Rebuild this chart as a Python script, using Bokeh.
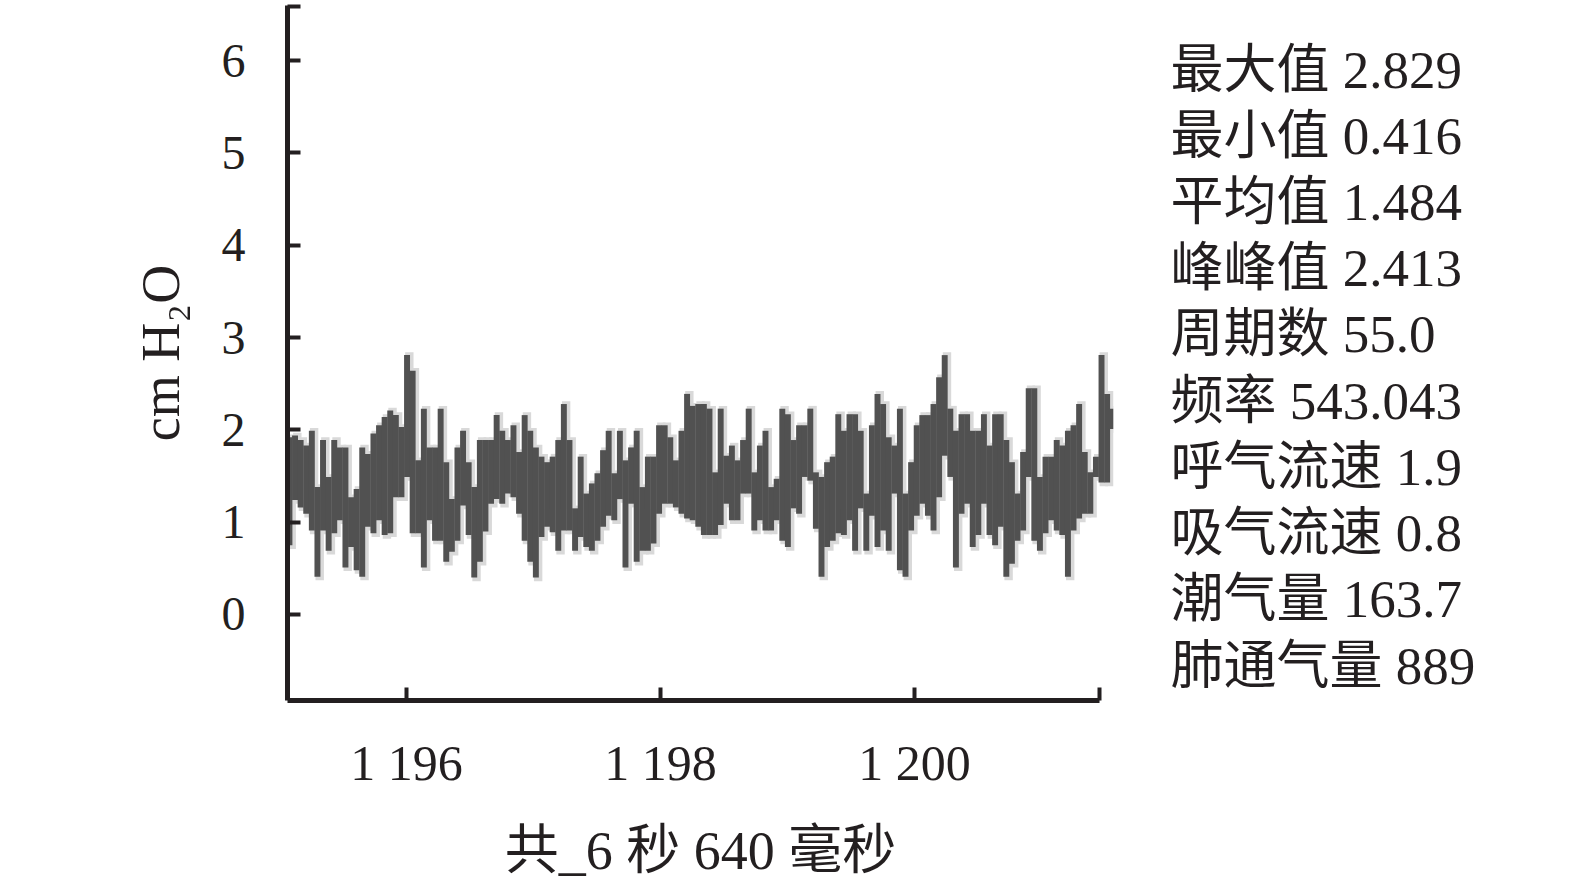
import numpy as np
from bokeh.plotting import figure
from bokeh.models import Range1d, FixedTicker, ColumnDataSource
from bokeh.layouts import row
from bokeh.core.properties import value
from bokeh.embed import file_html
from bokeh.resources import INLINE

# ---------------- data ----------------
T_START = 1194.99          # time of first sample column (s)
DT = 0.0441                # sample column spacing (s)

HI = [1.53, 1.89, 1.92, 1.94, 1.89, 1.83, 1.99, 1.38, 1.89, 1.49, 1.89, 1.81, 1.81, 1.27, 1.36, 1.81, 1.74, 1.96, 2.05, 2.14, 2.21, 2.16, 2.03, 2.81, 2.64,
      1.67, 2.23, 1.81, 1.81, 2.23, 1.65, 1.25, 1.81, 1.99, 1.65, 1.38, 1.89, 1.89, 1.89, 2.16, 1.99, 1.89, 2.05, 1.76, 2.16, 1.99, 1.81, 1.71, 1.65, 1.71,
      1.89, 2.28, 1.89, 1.15, 1.71, 1.31, 1.42, 1.53, 1.78, 1.99, 1.53, 1.99, 1.67, 1.81, 1.99, 1.38, 1.71, 1.71, 2.05, 2.05, 1.92, 1.67, 1.99, 2.39, 2.26,
      2.28, 2.28, 2.23, 1.54, 2.23, 1.72, 1.83, 1.67, 1.89, 2.23, 1.54, 1.83, 1.99, 1.38, 1.47, 2.23, 2.17, 1.89, 2.05, 2.05, 2.23, 1.54, 1.49, 1.65, 1.71,
      2.17, 1.99, 2.17, 2.17, 1.99, 1.31, 2.05, 2.39, 2.28, 1.92, 1.83, 2.23, 1.31, 1.65, 2.05, 2.16, 2.16, 2.28, 2.57, 2.81, 2.23, 1.99, 2.17, 2.17, 1.99,
      1.99, 2.17, 1.83, 2.17, 2.17, 1.89, 1.65, 1.31, 1.76, 2.45, 2.45, 1.49, 1.71, 1.71, 1.89, 1.83, 1.99, 2.05, 2.28, 1.76, 1.54, 1.71, 2.81, 2.39, 2.23]

LO = [0.95, 0.75, 0.75, 1.24, 1.16, 1.09, 0.91, 0.41, 0.91, 0.69, 0.88, 1.02, 0.51, 0.73, 0.48, 0.41, 0.95, 0.88, 1.02, 0.86, 0.88, 1.27, 1.27, 1.49, 0.88,
      0.88, 0.51, 1.02, 0.80, 0.80, 0.57, 0.68, 0.80, 1.18, 0.86, 0.40, 0.57, 0.90, 1.20, 1.25, 1.20, 1.31, 1.27, 1.09, 0.80, 0.57, 0.40, 0.84, 0.95, 0.89,
      0.69, 0.91, 0.91, 0.69, 0.84, 0.73, 0.69, 0.80, 0.95, 1.07, 1.02, 1.25, 0.51, 1.20, 0.57, 0.69, 0.69, 0.77, 1.09, 1.20, 1.20, 1.16, 1.09, 1.04, 1.02,
      0.95, 0.86, 0.86, 0.86, 0.97, 1.20, 1.02, 1.02, 1.31, 1.31, 0.91, 1.02, 0.91, 0.91, 1.02, 0.80, 0.73, 1.15, 1.09, 1.49, 1.45, 0.93, 0.41, 0.73, 0.80,
      0.88, 0.86, 1.02, 0.69, 1.15, 0.69, 1.07, 0.73, 0.91, 0.69, 1.31, 0.48, 0.41, 0.91, 1.07, 1.20, 1.07, 0.91, 1.27, 1.72, 1.49, 0.51, 1.09, 1.20, 0.73,
      0.86, 1.20, 0.86, 0.75, 0.95, 0.41, 0.55, 0.80, 0.91, 1.49, 0.80, 0.69, 0.88, 1.02, 0.91, 0.86, 0.41, 0.91, 1.04, 1.09, 1.09, 1.49, 1.43, 1.43, 2.01]

X_TICKS = [1196, 1198, 1200]
X_TICK_LABELS = ["1 196", "1 198", "1 200"]
Y_TICKS = [0, 1, 2, 3, 4, 5, 6]

STAT_NAMES = ["最大值", "最小值", "平均值", "峰峰值", "周期数", "频率", "呼气流速", "吸气流速", "潮气量", "肺通气量"]
STAT_VALUES = ["2.829", "0.416", "1.484", "2.413", "55.0", "543.043", "1.9", "0.8", "163.7", "889"]

X_LABEL = "共_6 秒 640 毫秒"
Y_LABEL = "cm H\u2082O"

# ---------------- styling / layout ----------------
FONT = "'Liberation Serif', 'Noto Sans CJK SC', serif"
INK = "#231f20"
TRACE = "#515151"
SHADOW = "#d9d9d9"

H = 884
MAIN_W = 1133
STATS_W = 1575 - MAIN_W
BT, BB = 5, 184

X_START, X_END = 1195.063, 1201.567
X_AXIS_END = 1201.46
Y_START, Y_END = -0.932, 6.598
Y_CAP = 6.585

t = T_START + DT * np.arange(len(HI))
hi = np.array(HI)
lo = np.array(LO)
src = ColumnDataSource(dict(t=t, hi=hi, lo=lo,
                            ts=t + 0.018, his=hi + 0.03, los=lo - 0.04))

p = figure(width=MAIN_W, height=H, output_backend="svg", toolbar_location=None,
           x_range=Range1d(X_START, X_END), y_range=Range1d(Y_START, Y_END),
           min_border_left=287, min_border_right=20, min_border_top=BT, min_border_bottom=BB)
p.outline_line_color = None
p.grid.grid_line_color = None

p.vbar(x="ts", width=DT * 1.5, top="his", bottom="los", source=src,
       fill_color=SHADOW, line_color=None)
p.vbar(x="t", width=DT * 1.06, top="hi", bottom="lo", source=src,
       fill_color=TRACE, line_color=None)

# x axis
xa = p.xaxis[0]
xa.ticker = FixedTicker(ticks=X_TICKS + [X_AXIS_END])
overrides = {tk: lab for tk, lab in zip(X_TICKS, X_TICK_LABELS)}
overrides[X_AXIS_END] = ""
xa.major_label_overrides = overrides
xa.bounds = (X_START, X_AXIS_END)
xa.minor_tick_line_color = None
xa.major_tick_in = 13
xa.major_tick_out = 0
xa.major_tick_line_width = 4
xa.major_tick_line_color = INK
xa.axis_line_width = 5
xa.axis_line_color = INK
xa.major_label_text_font = FONT
xa.major_label_text_font_size = "50px"
xa.major_label_text_color = INK
xa.major_label_standoff = 34
xa.axis_label = X_LABEL
xa.axis_label_text_font = FONT
xa.axis_label_text_font_size = "54px"
xa.axis_label_text_font_style = "normal"
xa.axis_label_text_color = INK
xa.axis_label_standoff = 27

# y axis
ya = p.yaxis[0]
ya.ticker = FixedTicker(ticks=Y_TICKS + [Y_CAP])
yover = {tk: str(tk) for tk in Y_TICKS}
yover[Y_CAP] = ""
ya.major_label_overrides = yover
ya.minor_tick_line_color = None
ya.major_tick_in = 13
ya.major_tick_out = 0
ya.major_tick_line_width = 4
ya.major_tick_line_color = INK
ya.axis_line_width = 5
ya.axis_line_color = INK
ya.major_label_text_font = FONT
ya.major_label_text_font_size = "48px"
ya.major_label_text_color = INK
ya.major_label_standoff = 42
ya.major_label_orientation = "horizontal"
ya.axis_label = Y_LABEL
ya.axis_label_text_font = FONT
ya.axis_label_text_font_size = "54px"
ya.axis_label_text_font_style = "normal"
ya.axis_label_text_color = INK
ya.axis_label_standoff = 28

# statistics block on the right (separate, axis-less panel, frame aligned with main)
n = len(STAT_NAMES)
s = figure(width=STATS_W, height=H, output_backend="svg", toolbar_location=None,
           x_range=Range1d(0, STATS_W), y_range=Range1d(9.5285, -0.9665),
           x_axis_location=None, y_axis_location=None,
           min_border_left=0, min_border_right=0, min_border_top=BT, min_border_bottom=BB)
s.outline_line_color = None
s.grid.grid_line_color = None
stats_src = ColumnDataSource(dict(
    x=[37] * n, y=list(range(n)),
    txt=[f"{a} {b}" for a, b in zip(STAT_NAMES, STAT_VALUES)]))
s.text(x="x", y="y", text="txt", source=stats_src,
       text_font=value(FONT), text_font_size="53px", text_color=INK,
       text_baseline="middle", text_align="left")

open("out.html", "w").write(file_html(row(p, s), INLINE))
